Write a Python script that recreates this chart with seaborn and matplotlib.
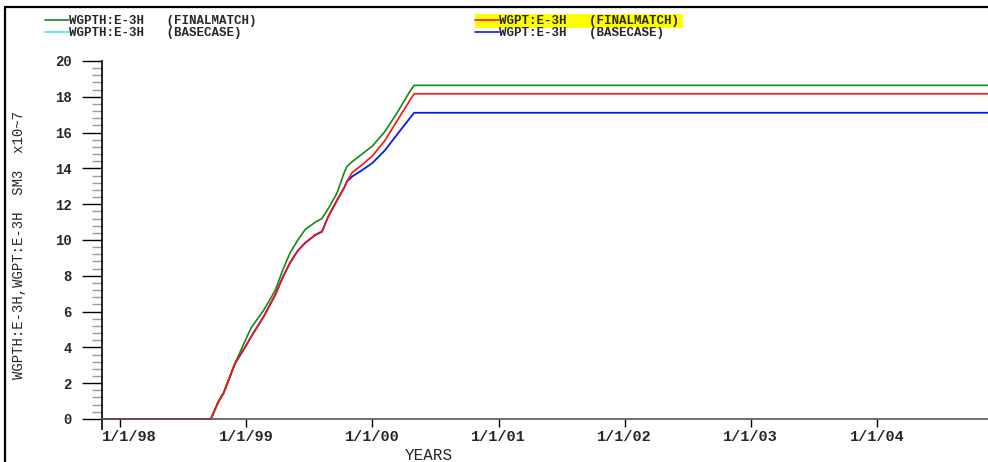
import matplotlib
matplotlib.use("Agg")
import numpy as np
import pandas as pd
import matplotlib.pyplot as plt
import matplotlib.dates as mdates
import matplotlib.ticker as mticker
import matplotlib.transforms as mtransforms
from matplotlib.lines import Line2D
from matplotlib.patches import Rectangle
import seaborn as sns

# Report dates shared by all vectors
dates = [
    "1997-11-08", "1998-09-20", "1998-10-12", "1998-10-27", "1998-11-29",
    "1998-12-28", "1999-01-15", "1999-02-21", "1999-03-26", "1999-04-16",
    "1999-05-08", "1999-05-30", "1999-06-21", "1999-07-20", "1999-08-08",
    "1999-08-26", "1999-09-20", "1999-10-12", "1999-10-19", "1999-11-03",
    "1999-12-02", "2000-01-01", "2000-02-06", "2000-03-14", "2000-04-20",
    "2000-05-01", "2004-11-18",
]

# Cumulative gas production, units of 1e7 SM3
wgpth_final = [0, 0, 0.97, 1.45, 3.1, 4.35, 5.1, 6.1, 7.2, 8.3,
               9.3, 10.0, 10.6, 11.0, 11.2, 11.75, 12.6, 13.8, 14.1, 14.37,
               14.8, 15.25, 16.05, 17.15, 18.35, 18.64, 18.64]
wgpth_base = [0, 0, 0.97, 1.45, 3.1, 4.0, 4.6, 5.75, 6.95, 7.9,
              8.75, 9.4, 9.85, 10.28, 10.46, 11.3, 12.2, 12.95, 13.26, 13.54,
              13.9, 14.3, 15.0, 15.93, 16.84, 17.11, 17.11]
wgpt_final = [0, 0, 0.95, 1.45, 3.1, 4.0, 4.6, 5.75, 6.95, 7.9,
              8.75, 9.4, 9.85, 10.3, 10.48, 11.3, 12.2, 12.95, 13.26, 13.76,
              14.2, 14.7, 15.55, 16.7, 17.85, 18.17, 18.17]
wgpt_base = [0, 0, 0.97, 1.45, 3.1, 4.0, 4.6, 5.75, 6.95, 7.9,
             8.75, 9.4, 9.85, 10.28, 10.46, 11.3, 12.2, 12.95, 13.26, 13.54,
             13.9, 14.3, 15.0, 15.93, 16.84, 17.11, 17.11]

series_labels = [
    "WGPTH:E-3H   (FINALMATCH)",
    "WGPTH:E-3H   (BASECASE)",
    "WGPT:E-3H   (FINALMATCH)",
    "WGPT:E-3H   (BASECASE)",
]
series_colors = ["#138a13", "#44e6e6", "#ff1010", "#1010ff"]

tick_dates = ["1998-01-01", "1999-01-01", "2000-01-01", "2001-01-01",
              "2002-01-01", "2003-01-01", "2004-01-01"]
tick_labels = ["1/1/98", "1/1/99", "1/1/00", "1/1/01",
               "1/1/02", "1/1/03", "1/1/04"]

sns.set_theme(style="white")
plt.rcParams["font.family"] = ["Liberation Mono", "DejaVu Sans Mono"]
plt.rcParams["font.weight"] = "bold"

t = pd.to_datetime(dates)
values = [wgpth_final, wgpth_base, wgpt_final, wgpt_base]

W, H = 988, 462
fig = plt.figure(figsize=(W / 100, H / 100), dpi=100)
fig.patch.set_facecolor("white")
ax = fig.add_axes([101.7 / W, 33 / H, (W - 101.7) / W, 368 / H])
ax.set_facecolor("white")

# draw order: basecase WGPTH, basecase WGPT, finalmatch WGPTH, finalmatch WGPT
handles = {}
for idx in [1, 3, 0, 2]:
    df = pd.DataFrame({"date": t, "value": values[idx]})
    sns.lineplot(data=df, x="date", y="value", ax=ax, color=series_colors[idx],
                 linewidth=1.2, estimator=None, sort=False, legend=False)
    handles[idx] = ax.lines[-1]

ax.set_xlim(mdates.date2num(pd.Timestamp("1997-11-08")),
            mdates.date2num(pd.Timestamp("2004-11-18")))
ax.set_ylim(-0.56, 20)

for s in ["top", "right"]:
    ax.spines[s].set_visible(False)
ax.spines["bottom"].set_position(("data", 0))
ax.spines["bottom"].set_color("#555555")
ax.spines["bottom"].set_linewidth(1.2)
ax.spines["left"].set_color("black")
ax.spines["left"].set_linewidth(1.2)

ax.set_xticks(mdates.date2num(pd.to_datetime(tick_dates)))
ax.set_xticklabels(tick_labels)
ax.yaxis.set_major_locator(mticker.FixedLocator(np.arange(0, 20.01, 2)))
ax.yaxis.set_minor_locator(mticker.FixedLocator(np.arange(0, 20.01, 0.4)))
ax.yaxis.set_major_formatter(mticker.FormatStrFormatter("%d"))

ax.tick_params(axis="x", which="major", direction="out", length=6, width=1.0,
               color="black", pad=2, labelsize=11, bottom=True)
ax.tick_params(axis="y", which="major", direction="out", length=14.4, width=1.0,
               color="black", pad=7, labelsize=10, left=True)
ax.tick_params(axis="y", which="minor", direction="out", length=7.2, width=1.0,
               color="#999999", left=True)
ax.grid(False)

# the first date label starts at the y axis instead of being centred on its tick
first = ax.xaxis.get_major_ticks()[0].label1
first.set_horizontalalignment("left")
first.set_transform(first.get_transform()
                    + mtransforms.ScaledTranslation(-18.3 / 100, 0, fig.dpi_scale_trans))

ax.set_xlabel("YEARS", fontsize=11.5)
ax.xaxis.set_label_coords(0.369, -0.052)
ax.set_ylabel("WGPTH:E-3H,WGPT:E-3H  SM3  x10~7", fontsize=10)
ax.yaxis.set_label_coords(-0.085, 0.5)

leg = fig.legend([handles[0], handles[1], handles[2], handles[3]], series_labels,
                 ncol=2, loc="upper left", bbox_to_anchor=(45 / W, 1 - 15 / H),
                 frameon=False, fontsize=9, handlelength=1.9, handletextpad=0.0,
                 columnspacing=17.5, borderpad=0, borderaxespad=0, labelspacing=0.0)

# yellow highlight behind the active case entry
fig.canvas.draw()
r = fig.canvas.get_renderer()
tb = leg.get_texts()[2].get_window_extent(r)
hb = leg.legend_handles[2].get_window_extent(r)
x0, x1 = hb.x0, tb.x1 + 4
y0, y1 = tb.y0 - 1, tb.y1 + 1
fig.add_artist(Rectangle((x0 / W, y0 / H), (x1 - x0) / W, (y1 - y0) / H,
                         transform=fig.transFigure, facecolor="#ffff00",
                         edgecolor="none", zorder=0))

# frame around the plot page
fig.add_artist(Line2D([5 / W, 1], [1 - 7 / H, 1 - 7 / H], transform=fig.transFigure,
                      color="black", linewidth=1.6))
fig.add_artist(Line2D([5 / W, 5 / W], [0, 1 - 7 / H], transform=fig.transFigure,
                      color="black", linewidth=1.6))

fig.savefig("out.png", dpi=100)
